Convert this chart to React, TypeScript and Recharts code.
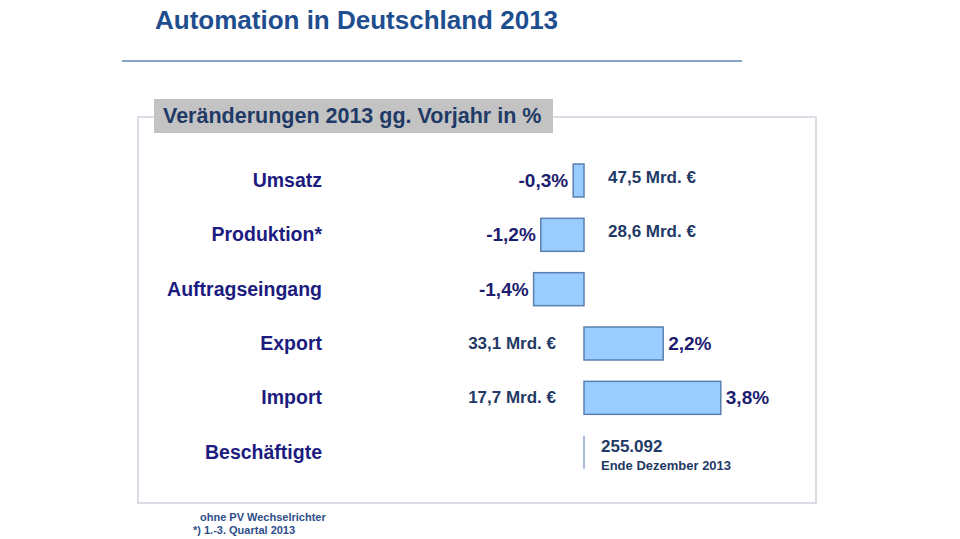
import { BarChart, Bar, XAxis, YAxis, LabelList } from 'recharts'

const categories = ['Umsatz', 'Produktion*', 'Auftragseingang', 'Export', 'Import', 'Beschäftigte']
// Veränderung ggü. Vorjahr in %, null = kein Wert (Beschäftigte)
const changes: (number | null)[] = [-0.3, -1.2, -1.4, 2.2, 3.8, null]
const amounts = ['47,5 Mrd. €', '28,6 Mrd. €', '', '33,1 Mrd. €', '17,7 Mrd. €', '']
const employees = '255.092'
const employeesNote = 'Ende Dezember 2013'
const xTicks = [-7, 4]

const FONT = "'Liberation Sans', Arial, sans-serif"

const chartData = categories.map((name, i) => ({
  name,
  change: changes[i] ?? 0,
}))

const fmtPct = (v: number) => `${v.toFixed(1).replace('.', ',')}%`

function BarShape(props: any) {
  const { x, y, width, height, index } = props
  if (changes[index] === null) {
    return <line x1={x} x2={x} y1={y} y2={y + height} stroke="#8aa6c8" strokeWidth={1.5} />
  }
  const left = Math.min(x, x + width)
  const w = Math.abs(width)
  return <rect x={left} y={y} width={w} height={height} fill="#99ccff" stroke="#5a80b0" strokeWidth={1.5} />
}

function RowLabels(props: any) {
  const { x, y, width, height, index } = props
  const cy = y + height / 2
  const v = changes[index]
  if (v === null) {
    return (
      <g fontFamily={FONT} fontWeight="bold" fill="#1f3a66">
        <text x={x + 17} y={cy - 6} fontSize={17} dominantBaseline="central">{employees}</text>
        <text x={x + 17} y={cy + 13} fontSize={13} dominantBaseline="central">{employeesNote}</text>
      </g>
    )
  }
  const left = Math.min(x, x + width)
  const right = Math.max(x, x + width)
  const neg = v < 0
  return (
    <g fontFamily={FONT} fontWeight="bold">
      <text
        x={neg ? left - 5 : right + 5}
        y={cy}
        textAnchor={neg ? 'end' : 'start'}
        dominantBaseline="central"
        fontSize={19}
        fill="#1d1d70"
      >
        {fmtPct(v)}
      </text>
      {amounts[index] && (
        <text
          x={neg ? x + 24 : x - 28}
          y={cy - (neg ? 3 : 0)}
          textAnchor={neg ? 'start' : 'end'}
          dominantBaseline="central"
          fontSize={17}
          fill="#1f3a66"
        >
          {amounts[index]}
        </text>
      )}
    </g>
  )
}

export default function App() {
  return (
    <div style={{ position: 'absolute', left: 0, top: 0, width: 960, height: 539, background: '#fff', fontFamily: FONT }}>
      <div style={{ position: 'absolute', left: 155, top: 5, fontSize: 26, fontWeight: 'bold', color: '#1f4e8f', lineHeight: '30px' }}>
        Automation in Deutschland 2013
      </div>
      <div style={{ position: 'absolute', left: 122, top: 60, width: 620, height: 2, background: '#86a3c9' }} />
      <div style={{ position: 'absolute', left: 137, top: 116, width: 676, height: 384, border: '2px solid #dadde4' }} />
      <div
        style={{
          position: 'absolute', left: 154, top: 99, width: 399, height: 34, background: '#c3c3c3',
          fontSize: 21.5, fontWeight: 'bold', color: '#1f3a66', lineHeight: '34px', paddingLeft: 9, boxSizing: 'border-box',
        }}
      >
        Veränderungen 2013 gg. Vorjahr in %
      </div>
      <div style={{ position: 'absolute', left: 0, top: 0 }}>
        <BarChart
          width={960}
          height={539}
          data={chartData}
          layout="vertical"
          margin={{ top: 153, right: 232, bottom: 60, left: 0 }}
        >
          <XAxis type="number" domain={[xTicks[0], xTicks[1]]} hide />
          <YAxis
            type="category"
            dataKey="name"
            width={332}
            axisLine={false}
            tickLine={false}
            tickSize={0}
            tickMargin={10}
            tick={{ fill: '#1c1c80', fontSize: 19.5, fontWeight: 'bold', fontFamily: FONT }}
          />
          <Bar dataKey="change" barSize={33} shape={BarShape} isAnimationActive={false}>
            <LabelList dataKey="change" content={RowLabels} />
          </Bar>
        </BarChart>
      </div>
      <div style={{ position: 'absolute', left: 200, top: 511, fontSize: 11, fontWeight: 'bold', color: '#2e4e8a', lineHeight: '13px' }}>
        ohne PV Wechselrichter
      </div>
      <div style={{ position: 'absolute', left: 193, top: 524, fontSize: 11, fontWeight: 'bold', color: '#2e4e8a', lineHeight: '13px' }}>
        *) 1.-3. Quartal 2013
      </div>
    </div>
  )
}
